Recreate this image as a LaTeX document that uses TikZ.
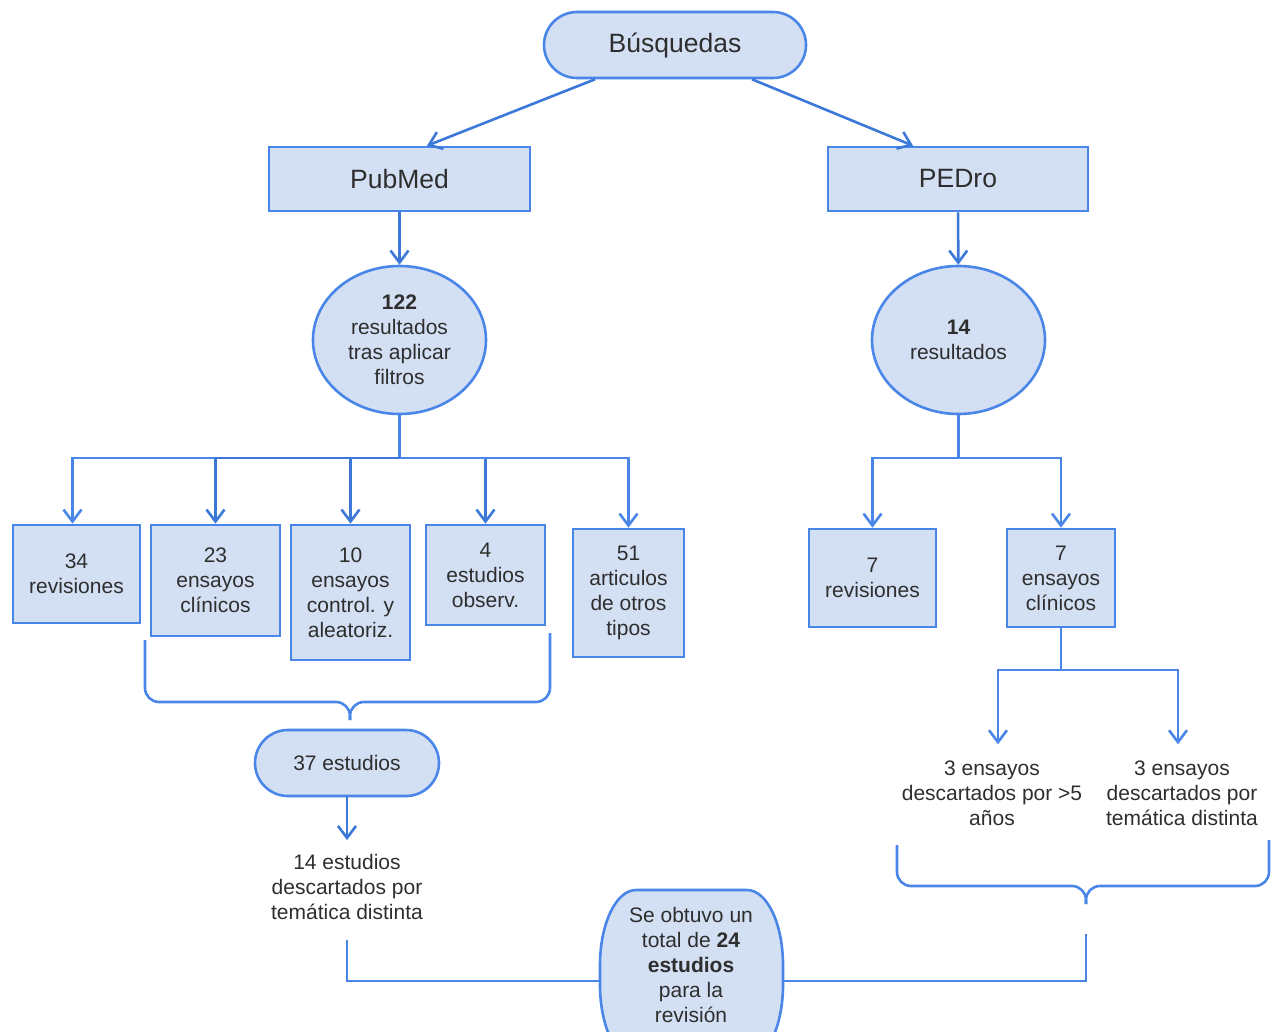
\documentclass[tikz,border=0pt]{standalone}
\usepackage{fontspec}
\setmainfont{Liberation Sans}
\usetikzlibrary{shapes.geometric,arrows.meta}
\definecolor{fillb}{HTML}{D3DFF3}
\definecolor{lineb}{HTML}{4A86E8}
\definecolor{lined}{HTML}{3C78D8}
\definecolor{txt}{HTML}{2E2E2E}
\begin{document}
\begin{tikzpicture}[x=1pt,y=-1pt,
  shapebox/.style={draw=lineb, fill=fillb, line width=2.6pt, inner sep=0pt, text=txt, align=center},
  boxnode/.style={shapebox, rectangle},
  pill/.style={shapebox, rectangle, rounded corners=33pt},
  oval/.style={shapebox, ellipse},
  plain/.style={text=txt, align=center, inner sep=4pt},
  small/.style={font=\fontsize{21}{25}\selectfont},
  large/.style={font=\fontsize{26.5}{30}\selectfont},
  conn/.style={draw=lineb, line width=2.6pt},
  arr/.style={conn, -{Straight Barb[length=12pt,width=18pt]}},
]
\useasboundingbox (0,0) rectangle (1280,1032);
\clip (0,0) rectangle (1280,1032);

% final node outline (elliptical corners, runs off the bottom)
\draw[draw=lineb, fill=fillb, line width=2.6pt]
  (600,965)
  arc[start angle=180, end angle=270, x radius=36, y radius=75]
  -- (747,890)
  arc[start angle=270, end angle=360, x radius=36, y radius=75]
  -- (783,985)
  arc[start angle=0, end angle=90, x radius=36, y radius=75]
  -- (636,1060)
  arc[start angle=90, end angle=180, x radius=36, y radius=75]
  -- cycle;

% top level
\node[pill,large,minimum width=262pt,minimum height=66pt] (busq) at (675,45) {Búsquedas};
\node[boxnode,large,minimum width=261pt,minimum height=64pt] (pubmed) at (399.5,179) {PubMed};
\node[boxnode,large,minimum width=260pt,minimum height=64pt] (pedro) at (958,179) {PEDro};

\node[oval,small,minimum width=173pt,minimum height=148pt] (e122) at (399.5,340) {\textbf{122}\\resultados\\tras aplicar\\filtros};
\node[oval,small,minimum width=173pt,minimum height=148pt] (e14) at (958.5,340) {\textbf{14}\\resultados};

% left boxes
\node[boxnode,small,minimum width=127pt,minimum height=98pt] (b34) at (76.5,574) {34\\revisiones};
\node[boxnode,small,minimum width=129pt,minimum height=111pt] (b23) at (215.5,580.5) {23\\ensayos\\clínicos};
\node[boxnode,small,minimum width=119pt,minimum height=135pt] (b10) at (350.5,592.5) {10\\ensayos\\control. y\\aleatoriz.};
\node[boxnode,small,minimum width=119pt,minimum height=100pt] (b4) at (485.5,575) {4\\estudios\\observ.};
\node[boxnode,small,minimum width=111pt,minimum height=128pt] (b51) at (628.5,593) {51\\articulos\\de otros\\tipos};

% right boxes
\node[boxnode,small,minimum width=127pt,minimum height=98pt] (r7) at (872.5,578) {7\\revisiones};
\node[boxnode,small,minimum width=108pt,minimum height=98pt] (c7) at (1061,578) {7\\ensayos\\clínicos};

% lower nodes
\node[pill,small,minimum width=184pt,minimum height=66pt] (s37) at (347,763) {37 estudios};
\node[plain,small] (t14) at (347,887) {14 estudios\\descartados por\\temática distinta};
\node[plain,small] (t3a) at (992,793) {3 ensayos\\descartados por >5\\años};
\node[plain,small] (t3b) at (1182,793) {3 ensayos\\descartados por\\temática distinta};
\node[text=txt, align=center, inner sep=0pt, small, minimum width=183pt, minimum height=150pt] (final) at (691,965)
  {Se obtuvo un\\total de \textbf{24}\\\textbf{estudios}\\para la\\revisión};

% connectors top
\draw[arr,draw=lined] ([xshift=-80pt]busq.south) -- ([xshift=27.5pt]pubmed.north);
\draw[arr,draw=lined] ([xshift=77pt]busq.south) -- ([xshift=-45pt]pedro.north);
\draw[arr,draw=lined] (pubmed) -- (e122);
\draw[arr,draw=lined] (pedro) -- (e14);

% left tree
\coordinate (jl) at (399.5,458);
\draw[conn] (e122) -- (jl);
\draw[arr] (jl) -| ([xshift=-4pt]b34.north);
\draw[arr,draw=lined] (jl) -| (b23.north);
\draw[arr,draw=lined] (jl) -| (b10.north);
\draw[arr,draw=lined] (jl) -| (b4.north);
\draw[arr] (jl) -| (b51.north);

% right tree
\coordinate (jr) at (958.5,458);
\draw[conn] (e14) -- (jr);
\draw[arr] (jr) -| (r7.north);
\draw[arr] (jr) -| (c7.north);
\coordinate (jr2) at (1061,670);
\draw[conn] (c7) -- (jr2);
\draw[arr,shorten >=12pt] (jr2) -| ([xshift=6pt]t3a.north);
\draw[arr,shorten >=12pt] (jr2) -| ([xshift=-4pt]t3b.north);

% left brace
\coordinate (bl1) at (145,640);
\coordinate (bl2) at (550,633);
\coordinate (bm) at (350,702);
\coordinate (blt) at (350,720);
\draw[conn,rounded corners=14pt] (bl1) |- (bm) -- (blt);
\draw[conn,rounded corners=14pt] (bl2) |- (bm) -- (blt);
\draw[arr,draw=lined,shorten >=10pt] (s37) -- (t14);

% right brace
\coordinate (br1) at (897,845);
\coordinate (br2) at (1269,840);
\coordinate (brm) at (1086,886);
\coordinate (brt) at (1086,904);
\draw[conn,rounded corners=14pt] (br1) |- (brm) -- (brt);
\draw[conn,rounded corners=14pt] (br2) |- (brm) -- (brt);

% final connectors
\coordinate (fl) at (347,940);
\coordinate (fr) at (1086,934);
\draw[conn] (fl) |- ([yshift=-16pt]final.west);
\draw[conn] (fr) |- ([yshift=-16pt]final.east);
\end{tikzpicture}
\end{document}
